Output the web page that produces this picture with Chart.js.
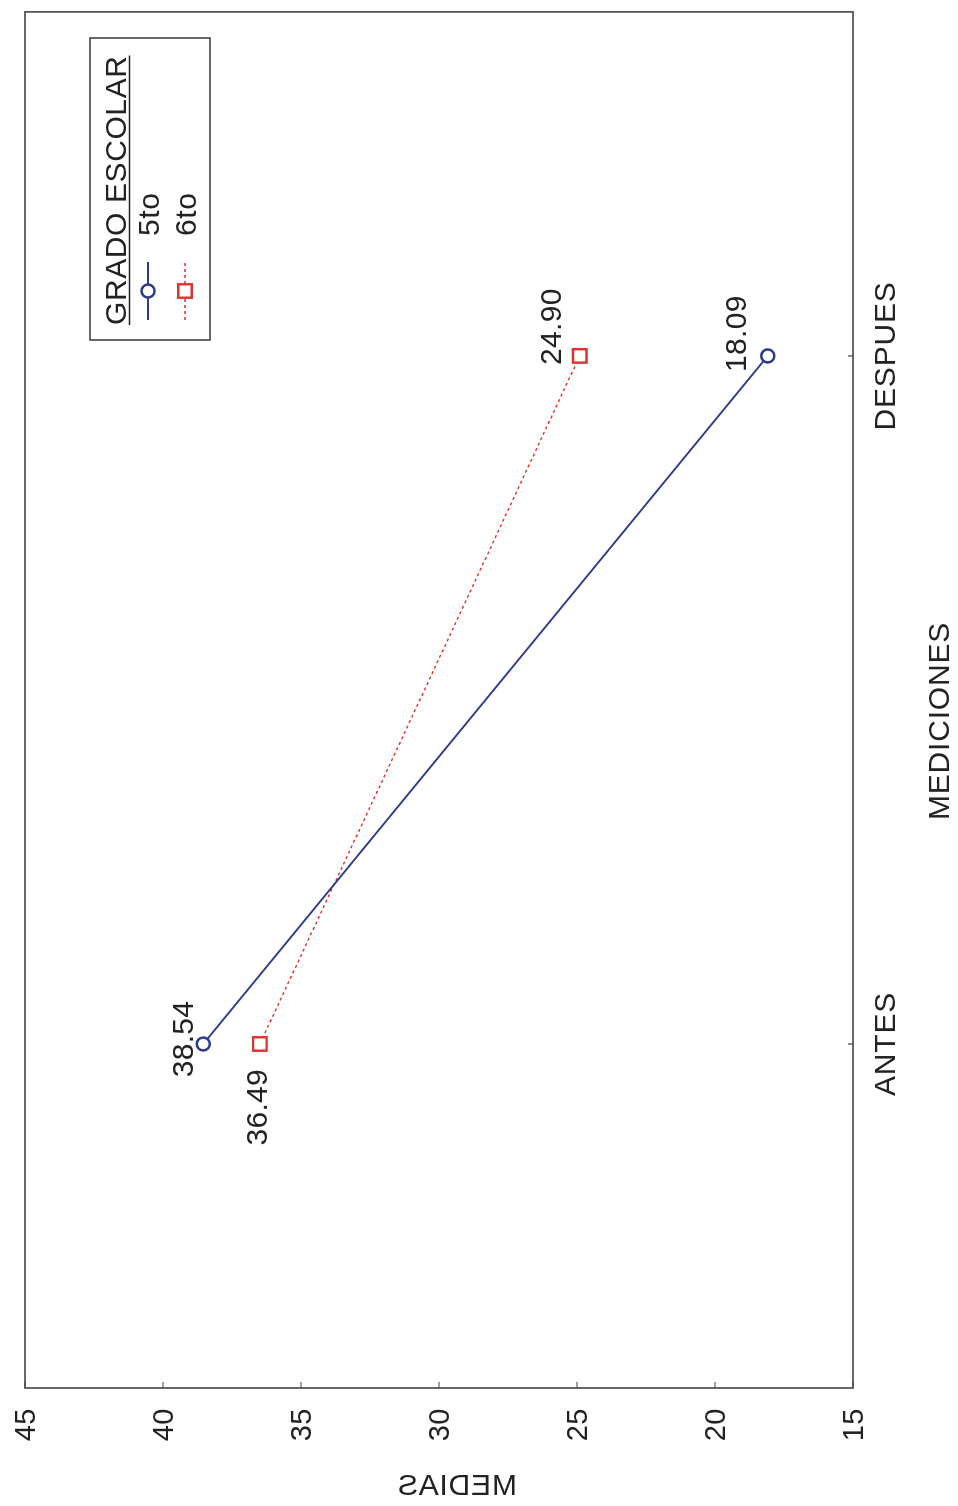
<!DOCTYPE html>
<html>
<head>
<meta charset="utf-8">
<script src="https://cdn.jsdelivr.net/npm/chart.js@4"></script>
<style>
  html, body { margin: 0; padding: 0; background: #ffffff; overflow: hidden; }
  body { width: 958px; height: 1506px; position: relative; }
  /* the chart is laid out landscape and turned a quarter turn for the portrait page */
  #frame {
    position: absolute; left: 0; top: 0;
    width: 1506px; height: 958px;
    transform-origin: 0 0;
    transform: translate(0, 1506px) rotate(-90deg);
  }
  canvas { display: block; }
</style>
</head>
<body>
<div id="frame"><canvas id="chart" width="1506" height="958"></canvas></div>
<script>
// ---- data ----
const categories = ['ANTES', 'DESPUES'];
const seriesNames = ['5to', '6to'];
const grado5 = [38.54, 18.09];
const grado6 = [36.49, 24.90];
const valueTicks = [15, 20, 25, 30, 35, 40, 45];
const xTitle = 'MEDICIONES';
const yTitle = 'MEDIAS';
const legendTitle = 'GRADO ESCOLAR';

// ---- look ----
const FONT = '"Liberation Sans", Arial, Helvetica, sans-serif';
const INK = '#222222';
const AXIS = '#444444';
const BLUE = '#2b3a8c';
const RED = '#e2302a';

// where each value label sits relative to its point: [series][category]
const labelPlacement = [
  [{ dx: 5, dy: -10, align: 'center' }, { dx: -16, dy: -22, align: 'left' }],
  [{ dx: -25, dy: 7, align: 'right' }, { dx: -9, dy: -19, align: 'left' }]
];

function setSpacing(ctx, px) {
  if ('letterSpacing' in ctx) ctx.letterSpacing = px + 'px';
}

const decorations = {
  id: 'decorations',
  beforeDatasetsDraw(chart) {
    const { ctx, chartArea: a, scales: { x, y } } = chart;
    ctx.save();
    ctx.strokeStyle = AXIS;
    ctx.lineWidth = 1.6;
    ctx.strokeRect(a.left, a.top, a.right - a.left, a.bottom - a.top);
    ctx.lineWidth = 1.2;
    ctx.beginPath();
    valueTicks.forEach(v => {
      const py = y.getPixelForValue(v);
      ctx.moveTo(a.left, py); ctx.lineTo(a.left + 6, py);
    });
    categories.forEach((c, i) => {
      const px = x.getPixelForValue(i);
      ctx.moveTo(px, a.bottom); ctx.lineTo(px, a.bottom - 5);
    });
    ctx.stroke();
    ctx.restore();
  },
  afterDatasetsDraw(chart) {
    const { ctx, chartArea: a, scales: { x, y } } = chart;
    ctx.save();
    ctx.fillStyle = INK;
    ctx.textBaseline = 'alphabetic';

    // value axis tick labels
    ctx.font = '29px ' + FONT;
    setSpacing(ctx, 0.5);
    ctx.textAlign = 'right';
    valueTicks.forEach(v => {
      ctx.fillText(String(v), a.left - 20, y.getPixelForValue(v) + 10);
    });

    // category labels
    ctx.font = '30px ' + FONT;
    setSpacing(ctx, 0.8);
    ctx.textAlign = 'center';
    categories.forEach((c, i) => {
      ctx.fillText(c, x.getPixelForValue(i), a.bottom + 42);
    });

    // axis titles
    ctx.fillText(xTitle, 785, a.bottom + 96);
    ctx.save();
    ctx.translate(19, 457);
    ctx.transform(0, -1, -1, 0, 0, 0);
    ctx.textBaseline = 'middle';
    ctx.fillText(yTitle, 0, 0);
    ctx.restore();

    // value labels
    ctx.font = '30px ' + FONT;
    setSpacing(ctx, 0.3);
    chart.data.datasets.forEach((ds, si) => {
      const meta = chart.getDatasetMeta(si);
      meta.data.forEach((pt, ci) => {
        const p = labelPlacement[si][ci];
        ctx.textAlign = p.align;
        ctx.fillText(ds.data[ci].toFixed(2), pt.x + p.dx, pt.y + p.dy);
      });
    });

    // legend
    const box = { l: 1166, t: 90, r: 1468, b: 210 };
    ctx.strokeStyle = AXIS;
    ctx.lineWidth = 1.6;
    ctx.strokeRect(box.l, box.t, box.r - box.l, box.b - box.t);
    ctx.font = '30px ' + FONT;
    setSpacing(ctx, 0.6);
    ctx.textAlign = 'left';
    ctx.fillText(legendTitle, 1181, 126);
    const tw = ctx.measureText(legendTitle).width;
    ctx.strokeStyle = INK;
    ctx.lineWidth = 1.6;
    ctx.beginPath(); ctx.moveTo(1181, 129.5); ctx.lineTo(1181 + tw, 129.5); ctx.stroke();

    const rows = [148, 185];
    const mx = 1215;
    chart.data.datasets.forEach((ds, si) => {
      const ry = rows[si];
      ctx.save();
      ctx.strokeStyle = ds.borderColor;
      ctx.lineWidth = ds.borderWidth;
      ctx.setLineDash(ds.borderDash || []);
      ctx.beginPath(); ctx.moveTo(1186, ry); ctx.lineTo(1244, ry); ctx.stroke();
      ctx.setLineDash([]);
      ctx.fillStyle = '#ffffff';
      ctx.strokeStyle = ds.pointBorderColor;
      ctx.lineWidth = ds.pointBorderWidth;
      ctx.beginPath();
      if (ds.pointStyle === 'circle') {
        ctx.arc(mx, ry, ds.pointRadius, 0, Math.PI * 2);
      } else {
        const s = ds.pointRadius * Math.SQRT1_2;
        ctx.rect(mx - s, ry - s, 2 * s, 2 * s);
      }
      ctx.fill(); ctx.stroke();
      ctx.restore();
      ctx.font = '30px ' + FONT;
      ctx.fillStyle = INK;
      ctx.fillText(ds.label, 1270, ry + 11);
    });
    ctx.restore();
  }
};

new Chart(document.getElementById('chart'), {
  type: 'line',
  data: {
    labels: categories,
    datasets: [
      {
        label: seriesNames[0], data: grado5,
        borderColor: BLUE, borderWidth: 1.8,
        pointStyle: 'circle', pointRadius: 6.5, pointBorderWidth: 2.5,
        pointBackgroundColor: '#ffffff', pointBorderColor: BLUE,
        tension: 0, fill: false
      },
      {
        label: seriesNames[1], data: grado6,
        borderColor: RED, borderWidth: 1.4, borderDash: [3, 3],
        pointStyle: 'rect', pointRadius: 9.5, pointBorderWidth: 2.4,
        pointBackgroundColor: '#ffffff', pointBorderColor: RED,
        tension: 0, fill: false
      }
    ]
  },
  options: {
    responsive: false,
    animation: false,
    devicePixelRatio: 1,
    layout: { padding: { top: 25, right: 10, left: 0, bottom: 0 } },
    plugins: { legend: { display: false }, tooltip: { enabled: false } },
    scales: {
      x: {
        type: 'category', offset: true,
        grid: { display: false }, border: { display: false },
        ticks: { display: false },
        afterFit(s) { s.height = 105; }
      },
      y: {
        min: 15, max: 45,
        grid: { display: false }, border: { display: false },
        ticks: { display: false, stepSize: 5 },
        afterFit(s) { s.width = 118; }
      }
    }
  },
  plugins: [decorations]
});
</script>
</body>
</html>
